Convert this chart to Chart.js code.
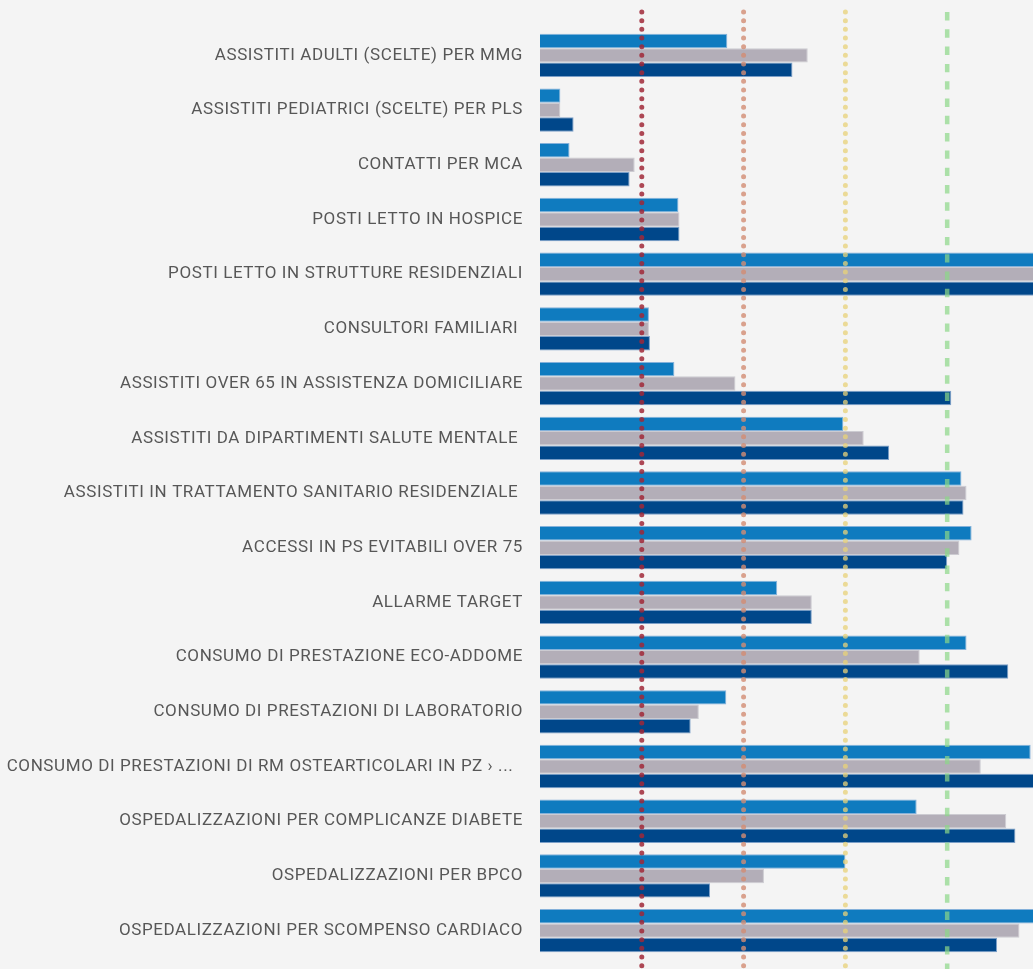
<!DOCTYPE html>
<html>
<head>
<meta charset="utf-8">
<script src="https://cdn.jsdelivr.net/npm/chart.js@4/dist/chart.umd.min.js"></script>
<style>
html,body{margin:0;padding:0;background:#f4f4f4;overflow:hidden;}
#wrap{width:1033px;height:969px;position:relative;}
</style>
</head>
<body>
<div id="wrap"><canvas id="c"></canvas></div>
<script>
const categories = [
  "ASSISTITI ADULTI (SCELTE) PER MMG",
  "ASSISTITI PEDIATRICI (SCELTE) PER PLS",
  "CONTATTI PER MCA",
  "POSTI LETTO IN HOSPICE",
  "POSTI LETTO IN STRUTTURE RESIDENZIALI",
  "CONSULTORI FAMILIARI ",
  "ASSISTITI OVER 65 IN ASSISTENZA DOMICILIARE",
  "ASSISTITI DA DIPARTIMENTI SALUTE MENTALE ",
  "ASSISTITI IN TRATTAMENTO SANITARIO RESIDENZIALE ",
  "ACCESSI IN PS EVITABILI OVER 75",
  "ALLARME TARGET",
  "CONSUMO DI PRESTAZIONE ECO-ADDOME",
  "CONSUMO DI PRESTAZIONI DI LABORATORIO",
  "CONSUMO DI PRESTAZIONI DI RM OSTEARTICOLARI IN PZ › ...  ",
  "OSPEDALIZZAZIONI PER COMPLICANZE DIABETE",
  "OSPEDALIZZAZIONI PER BPCO",
  "OSPEDALIZZAZIONI PER SCOMPENSO CARDIACO"
];
const seriesA = [1.84, 0.20, 0.29, 1.36, 5.00, 1.07, 1.32, 2.98, 4.14, 4.24, 2.33, 4.19, 1.83, 4.82, 3.70, 3.00, 5.00];
const seriesB = [2.63, 0.20, 0.93, 1.37, 5.00, 1.07, 1.92, 3.18, 4.19, 4.12, 2.67, 3.73, 1.56, 4.33, 4.58, 2.20, 4.71];
const seriesC = [2.48, 0.33, 0.88, 1.37, 5.00, 1.08, 4.04, 3.43, 4.16, 4.00, 2.67, 4.60, 1.48, 5.00, 4.67, 1.67, 4.49];
const thresholds = [1, 2, 3, 4];
const thresholdColors = ["rgba(160,40,55,0.85)", "rgba(210,140,115,0.8)", "rgba(232,210,120,0.75)", "rgba(140,215,135,0.7)"];
const thresholdStyles = ["dot", "dot", "dot", "dash"];
const xMax = 4.843;

const thresholdPlugin = {
  id: 'thresholds',
  beforeDraw(chart) {
    chart.ctx.letterSpacing = '0.6px';
  },
  beforeDatasetsDraw(chart) {
    chart.ctx.letterSpacing = '0px';
  },
  afterDatasetsDraw(chart) {
    const ctx = chart.ctx;
    const xs = chart.scales.x;
    const top = chart.chartArea.top - 16;
    const bottom = chart.height;
    thresholds.forEach((t, i) => {
      const x = xs.getPixelForValue(t);
      ctx.save();
      ctx.beginPath();
      ctx.strokeStyle = thresholdColors[i];
      if (thresholdStyles[i] === 'dot') {
        ctx.lineWidth = 5;
        ctx.lineCap = 'round';
        ctx.setLineDash([0, 8.67]);
      } else {
        ctx.lineWidth = 4.5;
        ctx.lineCap = 'butt';
        ctx.setLineDash([8.4, 8.9]);
      }
      ctx.moveTo(x, top);
      ctx.lineTo(x, bottom);
      ctx.stroke();
      ctx.restore();
    });
  }
};

const mk = (data, color, border) => ({
  data, backgroundColor: color, borderColor: border, borderWidth: 1,
  categoryPercentage: 0.792, barPercentage: 1
});

new Chart(document.getElementById('c'), {
  type: 'bar',
  data: {
    labels: categories,
    datasets: [
      mk(seriesA, '#0f7bbf', 'rgba(120,170,215,0.9)'),
      mk(seriesB, '#b3aeb8', 'rgba(200,198,205,0.9)'),
      mk(seriesC, '#00478a', 'rgba(110,150,195,0.9)')
    ]
  },
  options: {
    indexAxis: 'y',
    responsive: true,
    maintainAspectRatio: false,
    animation: false,
    layout: { padding: { top: 28, bottom: 11, left: 0, right: 0 } },
    plugins: { legend: { display: false }, tooltip: { enabled: false } },
    scales: {
      x: { display: false, min: 0, max: xMax },
      y: {
        grid: { display: true, drawOnChartArea: false, drawTicks: true, tickLength: 17, color: 'rgba(0,0,0,0)' },
        border: { display: false },
        afterFit(s) { s.width = 540; },
        ticks: {
          autoSkip: false,
          padding: 0,
          color: '#575757',
          font: { family: 'Roboto, sans-serif', size: 17 }
        }
      }
    }
  },
  plugins: [thresholdPlugin]
});
</script>
</body>
</html>
